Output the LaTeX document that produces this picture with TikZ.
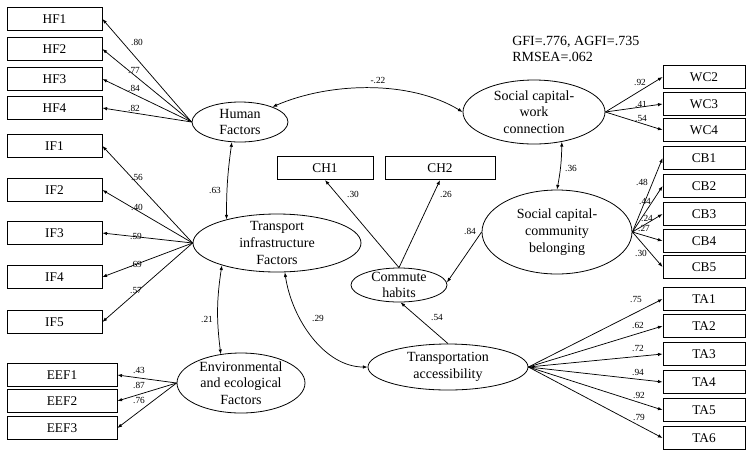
\documentclass[tikz,border=0pt]{standalone}
\usepackage{fontspec}
\setmainfont{Liberation Serif}
\usetikzlibrary{arrows.meta, shapes.geometric}

\begin{document}
\begin{tikzpicture}[x=0.75pt, y=-0.75pt,
    every node/.style={font=\fontsize{10.5}{12.5}\selectfont},
    obs/.style={draw, rectangle, minimum height=17.5pt, inner sep=0pt, line width=0.6pt,
        font=\fontsize{10}{12}\selectfont},
    lat/.style={draw, ellipse, inner sep=0pt, line width=0.6pt},
    ltext/.style={align=center, inner sep=0pt},
    coef/.style={font=\fontsize{7}{8}\selectfont, inner sep=0pt},
    load/.style={-{Latex[length=3.5pt, width=2.6pt]}, line width=0.55pt},
    cov/.style={{Latex[length=3.5pt, width=2.6pt]}-{Latex[length=3.5pt, width=2.6pt]}, line width=0.55pt}]
    \useasboundingbox (0,0) rectangle (750,451);

    % latent factors
    \node[lat, minimum width=72pt, minimum height=30pt,
        label={[ltext]center:Human\\Factors}] (hf) at (240,122) {};
    \node[lat, minimum width=126pt, minimum height=43.5pt,
        label={[ltext]center:Transport\\infrastructure\\Factors}] (tif) at (277,243) {};
    \node[lat, minimum width=96pt, minimum height=45pt,
        label={[ltext]center:Environmental\\and ecological\\Factors}] (eef) at (241,383) {};
    \node[lat, minimum width=106.5pt, minimum height=48pt,
        label={[ltext]center:Social capital-\\work\\connection}] (scw) at (534,112) {};
    \node[lat, minimum width=112.5pt, minimum height=63pt,
        label={[ltext]center:Social capital-\\community\\belonging}] (scc) at (557,232) {};
    \node[lat, minimum width=72pt, minimum height=25.5pt,
        label={[ltext]center:Commute\\habits}] (ch) at (399,285) {};
    \node[lat, minimum width=120pt, minimum height=34.5pt,
        label={[ltext]center:Transportation\\accessibility}] (ta) at (448,367) {};

    % fit indices
    \node[anchor=north west, align=left, inner sep=0pt,
        font=\fontsize{10.5}{12}\selectfont] (fit) at (512,36) {GFI=.776, AGFI=.735\\RMSEA=.062};

    % left indicators
    \node[obs, minimum width=71.25pt] (hf1) at (54.5,19) {HF1};
    \node[obs, minimum width=71.25pt] (hf2) at (54.5,49) {HF2};
    \node[obs, minimum width=71.25pt] (hf3) at (54.5,79) {HF3};
    \node[obs, minimum width=71.25pt] (hf4) at (54.5,108) {HF4};
    \node[obs, minimum width=71.25pt] (if1) at (54.5,146) {IF1};
    \node[obs, minimum width=71.25pt] (if2) at (54.5,190) {IF2};
    \node[obs, minimum width=71.25pt] (if3) at (54.5,233) {IF3};
    \node[obs, minimum width=71.25pt] (if4) at (54.5,277) {IF4};
    \node[obs, minimum width=71.25pt] (if5) at (54.5,322) {IF5};
    \node[obs, minimum width=82.5pt] (eef1) at (62,375) {EEF1};
    \node[obs, minimum width=82.5pt] (eef2) at (62,401) {EEF2};
    \node[obs, minimum width=82.5pt] (eef3) at (62,428) {EEF3};

    % middle indicators
    \node[obs, minimum width=72pt] (ch1) at (325,168) {CH1};
    \node[obs, minimum width=82.5pt] (ch2) at (440,168) {CH2};

    % right indicators
    \node[obs, minimum width=61.5pt] (wc2) at (704,77) {WC2};
    \node[obs, minimum width=61.5pt] (wc3) at (704,104) {WC3};
    \node[obs, minimum width=61.5pt] (wc4) at (704,130) {WC4};
    \node[obs, minimum width=61.5pt] (cb1) at (704,158) {CB1};
    \node[obs, minimum width=61.5pt] (cb2) at (704,186) {CB2};
    \node[obs, minimum width=61.5pt] (cb3) at (704,214) {CB3};
    \node[obs, minimum width=61.5pt] (cb4) at (704,241) {CB4};
    \node[obs, minimum width=61.5pt] (cb5) at (704,267) {CB5};
    \node[obs, minimum width=61.5pt] (ta1) at (704,299) {TA1};
    \node[obs, minimum width=61.5pt] (ta2) at (704,326) {TA2};
    \node[obs, minimum width=61.5pt] (ta3) at (704,354) {TA3};
    \node[obs, minimum width=61.5pt] (ta4) at (704,382) {TA4};
    \node[obs, minimum width=61.5pt] (ta5) at (704,410) {TA5};
    \node[obs, minimum width=61.5pt] (ta6) at (704,438) {TA6};

    % loadings
    \draw[load] (hf.west) -- (hf1.east);
    \draw[load] (hf.west) -- (hf2.east);
    \draw[load] (hf.west) -- (hf3.east);
    \draw[load] (hf.west) -- (hf4.east);
    \draw[load] (tif.west) -- (if1.east);
    \draw[load] (tif.west) -- (if2.east);
    \draw[load] (tif.west) -- (if3.east);
    \draw[load] (tif.west) -- (if4.east);
    \draw[load] (tif.west) -- (if5.east);
    \draw[load] (eef.west) -- (eef1.east);
    \draw[load] (eef.west) -- (eef2.east);
    \draw[load] (eef.west) -- (eef3.east);
    \draw[load] (scw.east) -- (wc2.west);
    \draw[load] (scw.east) -- (wc3.west);
    \draw[load] (scw.east) -- (wc4.west);
    \draw[load] (scc.east) -- (cb1.west);
    \draw[load] (scc.east) -- (cb2.west);
    \draw[load] (scc.east) -- (cb3.west);
    \draw[load] (scc.east) -- (cb4.west);
    \draw[load] (scc.east) -- (cb5.west);
    \draw[load] (ta.east) -- (ta1.west);
    \draw[load] (ta.east) -- (ta2.west);
    \draw[load] (ta.east) -- (ta3.west);
    \draw[load] (ta.east) -- (ta4.west);
    \draw[load] (ta.east) -- (ta5.west);
    \draw[load] (ta.east) -- (ta6.west);
    \draw[load] (ch.north) -- (ch1.south);
    \draw[load] (ch.north) -- (ch2.south);

    % structural paths
    \draw[cov] (scw.west) .. controls (410,80) and (330,82) .. (hf.25);
    \draw[cov] (hf.248) to[bend right=4] (tif.155);
    \draw[cov] (tif.202) to[bend right=8] (eef.125);
    \draw[cov] (tif.285) .. controls (292,320) and (325,367) .. (ta.west);
    \draw[cov] (scw.-47) to[bend left=5] (scc.north);
    \draw[load] (scc.west) -- (ch.3);
    \draw[load] (ta.north) -- (ch.-85);

    % coefficients
    \node[coef] (c-hf1) at (137,42) {.80};
    \node[coef] (c-hf2) at (134,71) {.77};
    \node[coef] (c-hf3) at (134,88) {.84};
    \node[coef] (c-hf4) at (134,108) {.82};
    \node[coef] (c-if1) at (137,177) {.56};
    \node[coef] (c-if2) at (137,207) {.40};
    \node[coef] (c-if3) at (136,236) {.59};
    \node[coef] (c-if4) at (136,264) {.69};
    \node[coef] (c-if5) at (136,291) {.57};
    \node[coef] (c-eef1) at (139,370) {.43};
    \node[coef] (c-eef2) at (139,385) {.87};
    \node[coef] (c-eef3) at (139,400) {.76};
    \node[coef] (c-wc2) at (640,82) {.92};
    \node[coef] (c-wc3) at (641,104) {.41};
    \node[coef] (c-wc4) at (641,118) {.54};
    \node[coef] (c-cb1) at (642,182) {.48};
    \node[coef] (c-cb2) at (645,201) {.44};
    \node[coef] (c-cb3) at (647,218) {.24};
    \node[coef] (c-cb4) at (644,228) {.27};
    \node[coef] (c-cb5) at (641,253) {.30};
    \node[coef] (c-ta1) at (636,300) {.75};
    \node[coef] (c-ta2) at (638,325) {.62};
    \node[coef] (c-ta3) at (638,348) {.72};
    \node[coef] (c-ta4) at (638,372) {.94};
    \node[coef] (c-ta5) at (639,395) {.92};
    \node[coef] (c-ta6) at (639,417) {.79};
    \node[coef] (c-ch1) at (353,194) {.30};
    \node[coef] (c-ch2) at (446,194) {.26};
    \node[coef] (c-swhf) at (378,80) {-.22};
    \node[coef] (c-hftif) at (215,190) {.63};
    \node[coef] (c-tifeef) at (207,319) {.21};
    \node[coef] (c-tifta) at (318,318) {.29};
    \node[coef] (c-swsc) at (571,168) {.36};
    \node[coef] (c-scch) at (470,231) {.84};
    \node[coef] (c-tach) at (437,317) {.54};
\end{tikzpicture}
\end{document}
